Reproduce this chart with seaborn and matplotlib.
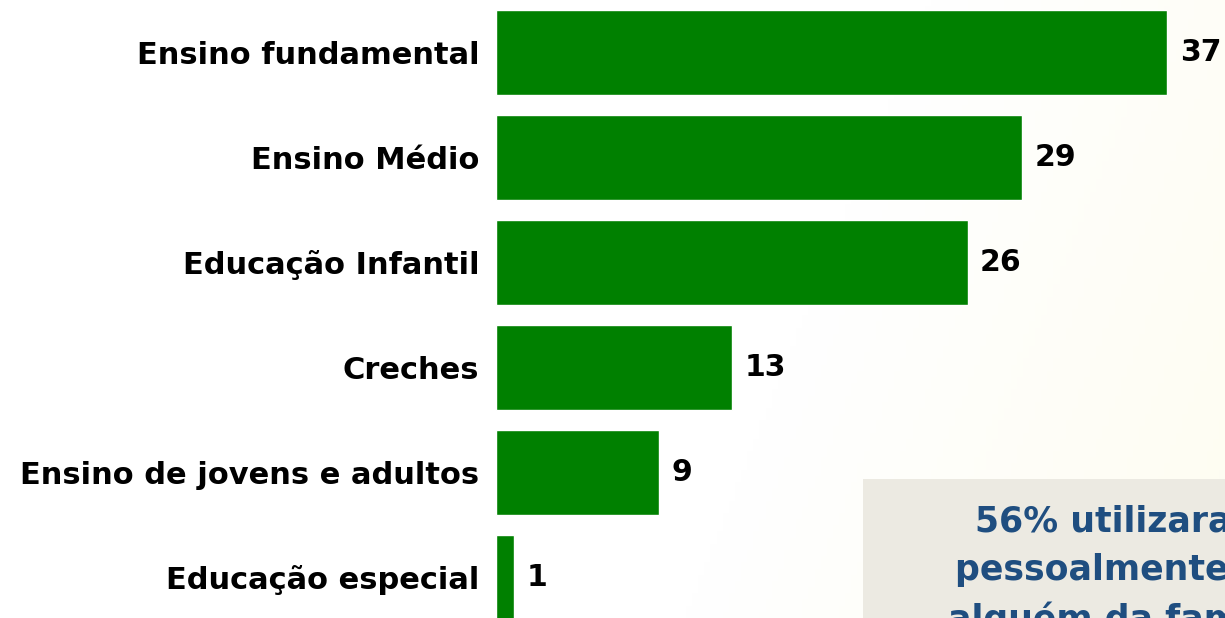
import matplotlib
matplotlib.use("Agg")
import matplotlib.pyplot as plt
from matplotlib.patches import Rectangle
import seaborn as sns
import pandas as pd
import numpy as np

# Data
categorias = ['Ensino fundamental', 'Ensino Médio', 'Educação Infantil',
              'Creches', 'Ensino de jovens e adultos', 'Educação especial']
valores = [37, 29, 26, 13, 9, 1]

destaque = ['56% utilizaram', 'pessoalmente ou', 'alguém da família']

sns.set_style('white')
plt.rcParams['font.family'] = ['DejaVu Sans']

fig = plt.figure(figsize=(12.25, 6.18), dpi=100)

# soft cream background towards the right
bg = fig.add_axes([0, 0, 1, 1], zorder=-10)
gx, gy = np.meshgrid(np.linspace(0, 1, 200), np.linspace(0, 1, 100))
g = np.clip((gx - 0.7) * 2.5 + (gy - 0.3) * 0.5, 0, 1)
img = np.ones((100, 200, 3))
img[..., 2] = 1 - 0.05 * g
img[..., 1] = 1 - 0.008 * g
img[..., 0] = 1 - 0.004 * g
bg.imshow(img, aspect='auto', extent=[0, 1, 0, 1])
bg.axis('off')

# text box in bottom right
fig.patches.append(Rectangle((863 / 1225, 0), 1, 1 - 479 / 618,
                             transform=fig.transFigure, facecolor='#ECEAE2',
                             edgecolor='none', zorder=-5))

ax = fig.add_axes([496 / 1225, 0, 729 / 1225, 1])
ax.patch.set_alpha(0)
df = pd.DataFrame({'categoria': categorias, 'valor': valores})
sns.barplot(data=df, y='categoria', x='valor', orient='h', color='#008000',
            saturation=1, width=0.81, ax=ax)

ax.set_xlim(0, 40.19)
ax.set_ylim(5.386, -0.5)
ax.set_xlabel('')
ax.set_ylabel('')
ax.set_xticks([])
sns.despine(ax=ax, left=True, bottom=True)
ax.tick_params(axis='y', length=0, pad=12)
for lab in ax.get_yticklabels():
    lab.set_fontsize(22)
    lab.set_fontweight('bold')
    lab.set_color('black')

ax.bar_label(ax.containers[0], padding=9, fontsize=21.5, fontweight='bold',
             color='black')

# highlighted note (cut off by the slide edge, as in the source)
starts = [975, 955, 948]
bases = [532, 580, 630]
for txt, x0, y0 in zip(destaque, starts, bases):
    fig.text(x0 / 1225, 1 - y0 / 618, txt, ha='left', va='baseline',
             fontsize=25, fontweight='bold', color='#1F4E80')

fig.savefig('out.png', dpi=100)
